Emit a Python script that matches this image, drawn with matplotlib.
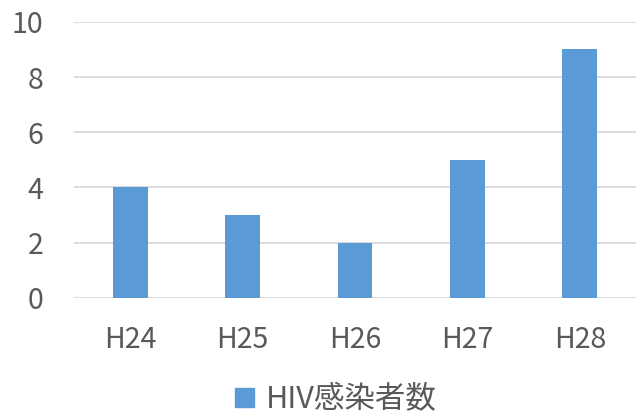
import matplotlib
matplotlib.use("Agg")
import matplotlib.pyplot as plt
from matplotlib.patches import Patch

plt.rcParams['font.family'] = ['Noto Sans CJK JP', 'DejaVu Sans']

categories = ["H24", "H25", "H26", "H27", "H28"]
values = [4, 3, 2, 5, 9]
series_name = "HIV感染者数"
yticks = [0, 2, 4, 6, 8, 10]

bar_color = "#5B9BD5"
text_color = "#595959"
grid_color = "#D9D9D9"

fig = plt.figure(figsize=(6.36, 4.16), dpi=100)
ax = fig.add_axes([74/636, 1-297.7/416, (636-74)/636, (297.7-21.9)/416])

x = list(range(len(categories)))
ax.bar(x, values, width=0.31, color=bar_color, zorder=3)
ax.set_xlim(-0.5, len(categories)-0.5)
ax.set_ylim(0, 10)
ax.set_yticks(yticks)
ax.set_xticks(x)
ax.set_xticklabels(categories)
ax.yaxis.grid(True, color=grid_color, linewidth=1.3, zorder=0)
ax.set_axisbelow(True)
for s in ax.spines.values():
    s.set_visible(False)
ax.tick_params(axis='both', length=0, colors=text_color, labelsize=20.5)
ax.tick_params(axis='y', pad=22)
ax.tick_params(axis='x', pad=20)

fig.legend(handles=[Patch(color=bar_color, label=series_name)], loc='center',
           bbox_to_anchor=(336/636, 1-400/416), frameon=False, fontsize=22,
           labelcolor=text_color, handlelength=0.6, handleheight=0.6, handletextpad=0.4)

fig.savefig("out.png", dpi=100, facecolor="white")
